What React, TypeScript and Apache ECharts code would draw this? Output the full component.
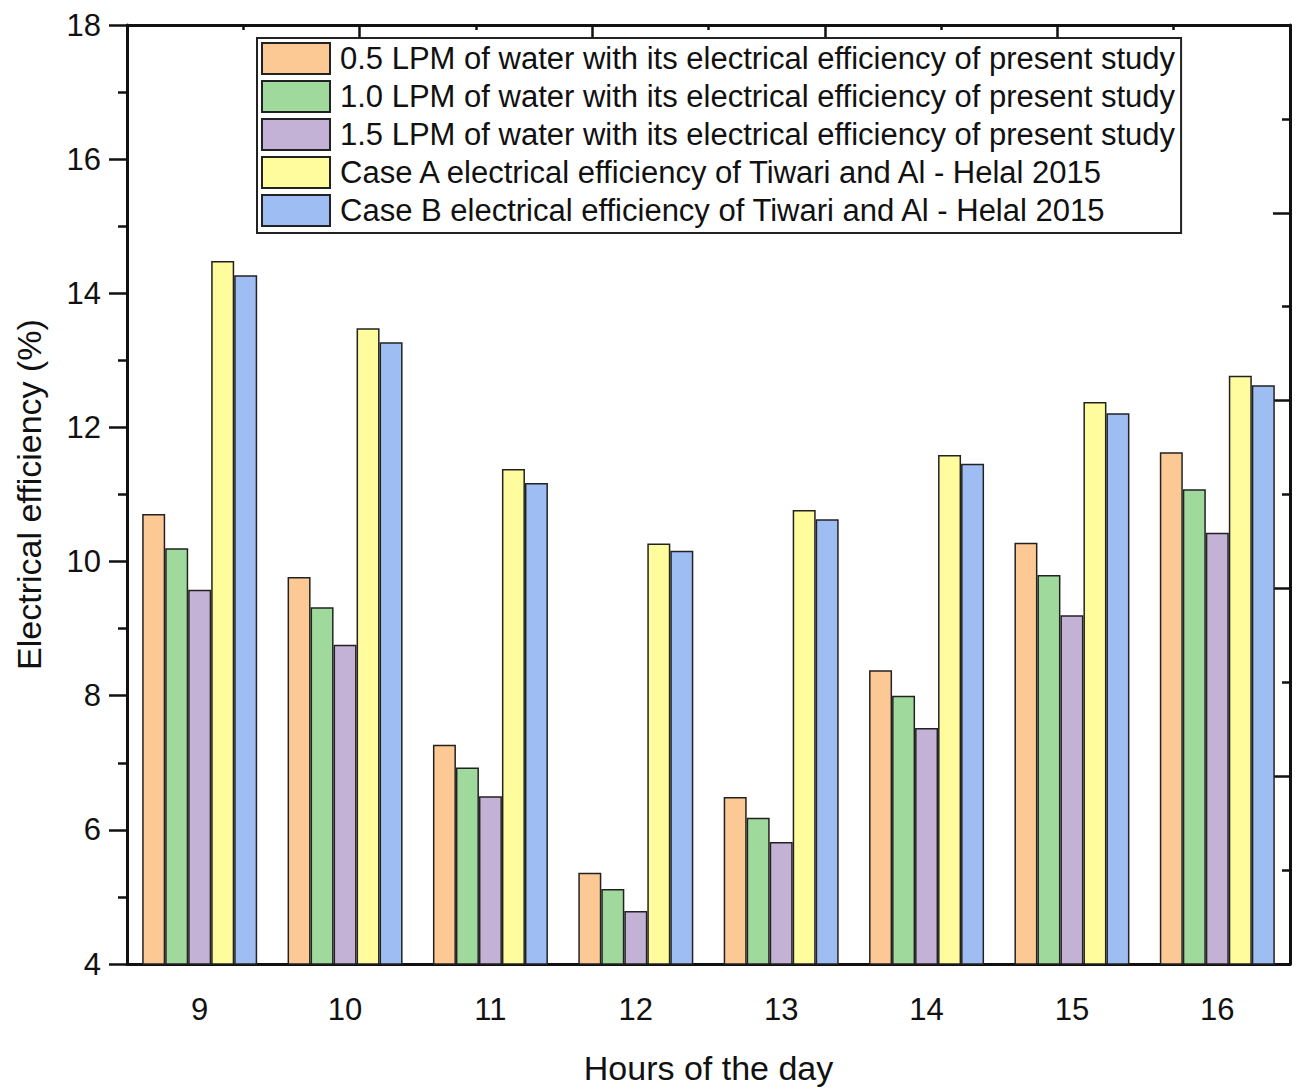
import React, { useEffect, useRef } from "react";
import * as echarts from "echarts";

// Hours of the day on the category axis
const hours = ["9", "10", "11", "12", "13", "14", "15", "16"];

// Electrical efficiency (%) for each series
const lpm05 = [10.71, 9.77, 7.27, 5.36, 6.49, 8.38, 10.28, 11.63];
const lpm10 = [10.2, 9.32, 6.93, 5.12, 6.18, 8.0, 9.8, 11.08];
const lpm15 = [9.58, 8.76, 6.5, 4.79, 5.82, 7.52, 9.2, 10.43];
const caseA = [14.48, 13.48, 11.38, 10.27, 10.77, 11.59, 12.38, 12.77];
const caseB = [14.27, 13.27, 11.17, 10.16, 10.63, 11.46, 12.21, 12.63];

const seriesNames = [
  "0.5 LPM of water with its electrical efficiency of present study",
  "1.0 LPM of water with its electrical efficiency of present study",
  "1.5 LPM of water with its electrical efficiency of present study",
  "Case A electrical efficiency of Tiwari and Al - Helal 2015",
  "Case B electrical efficiency of Tiwari and Al - Helal 2015",
];
const seriesValues = [lpm05, lpm10, lpm15, caseA, caseB];
const seriesColors = ["#FCC894", "#A0D99C", "#C3B1D6", "#FFFC9E", "#9DBDF3"];

const FONT = "'Liberation Sans', Arial, sans-serif";
const INK = "#111";

export default function App() {
  const ref = useRef<HTMLDivElement>(null);

  useEffect(() => {
    if (!ref.current) return;
    const chart = echarts.init(ref.current, null, { renderer: "svg" });

    const lineStyle = { color: INK, width: 3 };

    chart.setOption({
      animation: false,
      backgroundColor: "#fff",
      textStyle: { fontFamily: FONT, color: INK },
      grid: { left: 127, right: 14, top: 25, bottom: 126, containLabel: false },
      legend: {
        orient: "vertical",
        left: 257,
        top: 38,
        padding: [4, 6, 6, 4],
        itemWidth: 68,
        itemHeight: 31,
        itemGap: 5,
        borderColor: "#222",
        borderWidth: 2,
        borderRadius: 0,
        backgroundColor: "#fff",
        icon: "rect",
        textStyle: {
          fontSize: 31,
          fontFamily: FONT,
          color: INK,
          lineHeight: 31,
          padding: [0, 0, 0, 5],
        },
        data: seriesNames,
      },
      xAxis: [
        {
          type: "category",
          data: hours,
          position: "bottom",
          axisLine: { lineStyle },
          axisTick: {
            alignWithLabel: true,
            length: 17,
            lineStyle: { color: INK, width: 2.5 },
          },
          axisLabel: { fontSize: 31, color: INK, margin: 30, fontFamily: FONT },
          name: "Hours of the day",
          nameLocation: "middle",
          nameGap: 87,
          nameTextStyle: { fontSize: 34, color: INK, fontFamily: FONT },
          splitLine: { show: false },
        },
        {
          // boundary ticks between hour groups
          type: "category",
          data: hours,
          position: "bottom",
          axisLine: { show: false },
          axisTick: {
            interval: 0,
            alignWithLabel: false,
            length: 8,
            lineStyle: { color: INK, width: 2.5 },
          },
          axisLabel: { show: false },
          splitLine: { show: false },
        },
        {
          type: "value",
          position: "top",
          min: 0,
          max: 10,
          interval: 2,
          axisLine: { lineStyle },
          axisTick: {
            inside: true,
            length: 13,
            lineStyle: { color: INK, width: 2.5 },
          },
          minorTick: {
            show: true,
            splitNumber: 2,
            length: 5,
            lineStyle: { color: INK, width: 2.5 },
          },
          axisLabel: { show: false },
          splitLine: { show: false },
        },
      ],
      yAxis: [
        {
          type: "value",
          position: "left",
          min: 4,
          max: 18,
          interval: 2,
          axisLine: { show: true, lineStyle },
          axisTick: {
            show: true,
            length: 18,
            lineStyle: { color: INK, width: 2.5 },
          },
          minorTick: {
            show: true,
            splitNumber: 2,
            length: 9,
            lineStyle: { color: INK, width: 2.5 },
          },
          axisLabel: { fontSize: 31, color: INK, margin: 26, fontFamily: FONT },
          splitLine: { show: false },
          name: "Electrical efficiency (%)",
          nameLocation: "middle",
          nameGap: 81,
          nameTextStyle: { fontSize: 34, color: INK, fontFamily: FONT },
        },
        {
          type: "value",
          position: "right",
          min: 0,
          max: 5,
          interval: 1,
          axisLine: { show: true, lineStyle },
          axisTick: {
            show: true,
            inside: true,
            length: 17,
            lineStyle: { color: INK, width: 2.5 },
          },
          minorTick: {
            show: true,
            splitNumber: 2,
            length: 8,
            lineStyle: { color: INK, width: 2.5 },
          },
          axisLabel: { show: false },
          splitLine: { show: false },
        },
      ],
      series: seriesNames.map((name, i) => ({
        name,
        type: "bar",
        xAxisIndex: 0,
        yAxisIndex: 0,
        data: seriesValues[i],
        barWidth: 23,
        barGap: "0%",
        itemStyle: {
          color: seriesColors[i],
          borderColor: "#222",
          borderWidth: 1.5,
        },
      })),
    });

    return () => chart.dispose();
  }, []);

  return (
    <div
      ref={ref}
      style={{ position: "absolute", left: 0, top: 0, width: 1304, height: 1090 }}
    />
  );
}
